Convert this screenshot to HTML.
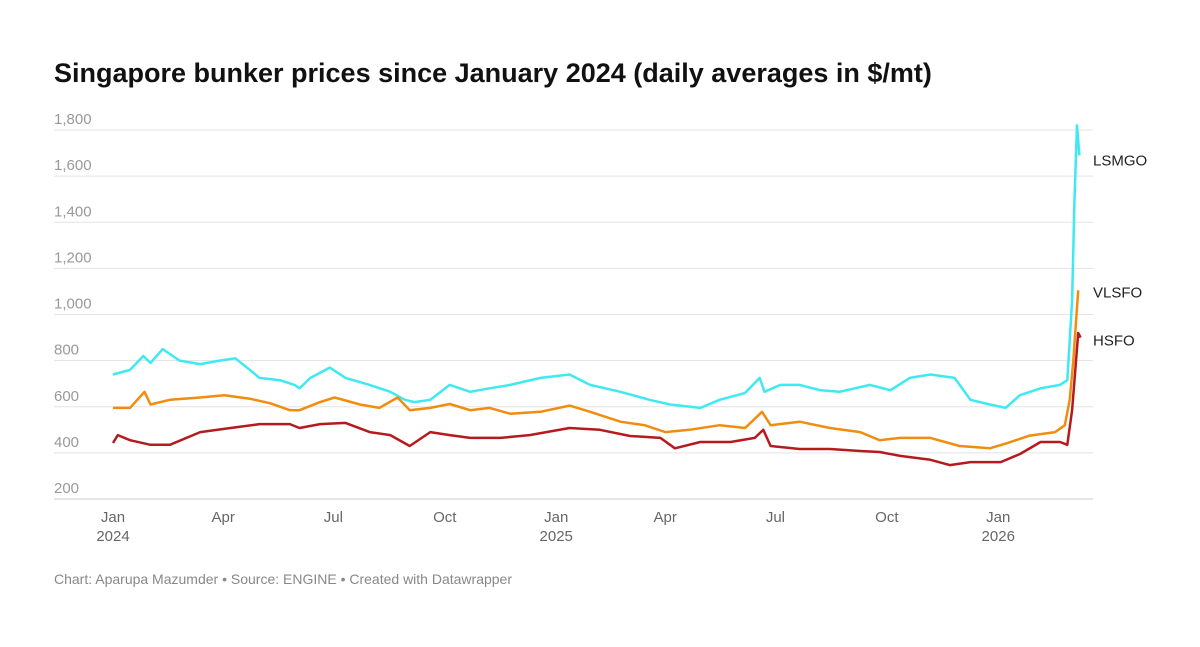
<!DOCTYPE html>
<html><head><meta charset="utf-8">
<style>
body{margin:0;background:#fff;font-family:"Liberation Sans",Arial,sans-serif;}
svg text{font-family:"Liberation Sans",Arial,sans-serif;}
</style></head>
<body>
<svg width="1200" height="642" xmlns="http://www.w3.org/2000/svg">
<text x="54" y="82" font-size="27" font-weight="bold" fill="#111">Singapore bunker prices since January 2024 (daily averages in $/mt)</text>
<g id="grid"></g>
<g id="lines"></g>
<g id="xaxis"></g>
<text x="54" y="584" font-size="14" fill="#888">Chart: Aparupa Mazumder • Source: ENGINE • Created with Datawrapper</text>
</svg>
<script>
const yTicks=[200,400,600,800,1000,1200,1400,1600,1800];
const xTickDays=[0,91,182,274,366,456,547,639,731];
const xTickMonths=["Jan","Apr","Jul","Oct","Jan","Apr","Jul","Oct","Jan"];
const xTickYears=["2024","","","","2025","","","","2026"];
const seriesNames=["LSMGO","VLSFO","HSFO"];
const lsmgoDays=[0,14,25,31,41,55,72,88,101,113,121,138,150,154,163,179,192,212,229,241,249,262,278,295,311,328,353,377,394,419,443,460,485,501,522,534,538,551,567,584,600,625,642,658,675,695,708,724,737,749,766,782,788,792,794,796,798];
const lsmgoVals=[740,760,820,790,850,800,785,800,810,760,725,715,695,680,725,770,725,695,665,630,620,630,695,665,680,695,725,740,695,665,630,610,595,630,660,725,665,695,695,672,665,695,672,725,740,725,630,610,595,650,680,695,715,1060,1500,1820,1690];
const vlsfoDays=[0,14,26,31,47,72,92,113,130,146,154,171,183,204,220,235,245,262,278,295,311,328,353,377,394,419,439,456,476,501,522,536,543,567,592,617,633,650,675,699,724,737,757,778,786,790,793,797];
const vlsfoVals=[595,595,665,610,630,640,650,635,615,585,585,620,640,610,595,640,585,595,612,585,595,570,578,605,578,535,520,490,500,520,508,578,520,535,508,490,455,465,465,430,420,440,475,490,520,630,800,1105];
const hsfoDays=[0,4,14,31,47,72,97,121,146,154,171,192,212,229,245,262,278,295,320,344,377,402,427,452,464,485,510,530,537,543,567,592,617,633,650,675,691,708,733,749,766,782,788,792,794,797,799];
const hsfoVals=[443,477,455,435,435,490,508,525,525,508,525,530,490,477,430,490,477,465,465,477,508,500,473,465,420,447,447,465,500,430,417,417,408,404,387,370,347,360,360,395,447,447,435,585,715,920,900];
const colors=["#3fe9f1","#f28c0f","#b51a1e"];
const X0=113,PXD=1.211,Y0=499,PXV=0.2306;
const xs=d=>X0+d*PXD;
const ys=v=>Y0-(v-200)*PXV;
const NS="http://www.w3.org/2000/svg";
const grid=document.getElementById('grid');
yTicks.forEach(t=>{
  const l=document.createElementNS(NS,'line');
  l.setAttribute('x1',54);l.setAttribute('x2',1093);
  l.setAttribute('y1',ys(t));l.setAttribute('y2',ys(t));
  l.setAttribute('stroke',t===200?'#ccc':'#e3e3e3');l.setAttribute('stroke-width',1);
  
  
  grid.appendChild(l);
  const tx=document.createElementNS(NS,'text');
  tx.setAttribute('x',54);tx.setAttribute('y',ys(t)-6);
  tx.setAttribute('font-size',15);tx.setAttribute('fill','#999');
  tx.textContent=t.toLocaleString('en-US');
  
  
  grid.appendChild(tx);
});
const xa=document.getElementById('xaxis');
xTickDays.forEach((d,i)=>{
  const t=document.createElementNS(NS,'text');
  t.setAttribute('x',xs(d));t.setAttribute('y',522);
  t.setAttribute('text-anchor','middle');t.setAttribute('font-size',15);t.setAttribute('fill','#666');
  t.textContent=xTickMonths[i];
  
  
  xa.appendChild(t);
  if(xTickYears[i]){
    const t2=document.createElementNS(NS,'text');
    t2.setAttribute('x',xs(d));t2.setAttribute('y',541);
    t2.setAttribute('text-anchor','middle');t2.setAttribute('font-size',15);t2.setAttribute('fill','#666');
    t2.textContent=xTickYears[i];
    
    
    xa.appendChild(t2);
  }
});
const lines=document.getElementById('lines');
const all=[[lsmgoDays,lsmgoVals],[vlsfoDays,vlsfoVals],[hsfoDays,hsfoVals]];
const labelOffsets=[10,7,8];
all.forEach((s,i)=>{
  const [ds,vs]=s;
  const p=document.createElementNS(NS,'path');
  p.setAttribute('d',ds.map((d,j)=>(j?'L':'M')+xs(d).toFixed(1)+','+ys(vs[j]).toFixed(1)).join(''));
  p.setAttribute('fill','none');p.setAttribute('stroke',colors[i]);p.setAttribute('stroke-width',2.5);
  p.setAttribute('stroke-linejoin','round');
  
  
  lines.appendChild(p);
  const lv=vs[vs.length-1];
  const t=document.createElementNS(NS,'text');
  t.setAttribute('x',1093);t.setAttribute('y',ys(lv)+labelOffsets[i]);
  t.setAttribute('font-size',15);t.setAttribute('fill','#222');
  t.textContent=seriesNames[i];
  
  
  lines.appendChild(t);
});
</script>
</body></html>
